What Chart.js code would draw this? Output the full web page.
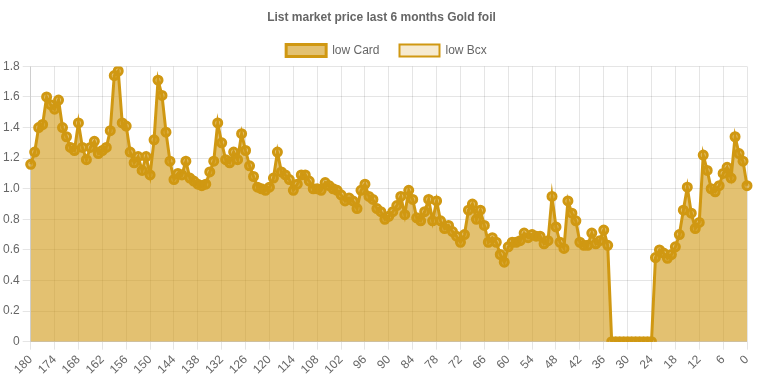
<!DOCTYPE html>
<html>
<head>
<meta charset="utf-8">
<script src="https://cdn.jsdelivr.net/npm/chart.js@4/dist/chart.umd.min.js"></script>
<style>
  html, body { margin: 0; padding: 0; background: #fff; }
  #wrap { width: 761px; height: 380px; }
</style>
</head>
<body>
<div id="wrap"><canvas id="c" width="761" height="380"></canvas></div>
<script>
const days = [];
for (let d = 180; d >= 0; d--) days.push(String(d));

const lowCard = [
  1.16, 1.24, 1.40, 1.42, 1.60, 1.55, 1.52, 1.58, 1.40, 1.34,
  1.27, 1.25, 1.43, 1.27, 1.19, 1.27, 1.31, 1.23, 1.25, 1.27,
  1.38, 1.74, 1.77, 1.43, 1.41, 1.24, 1.17, 1.21, 1.12, 1.21,
  1.09, 1.32, 1.71, 1.61, 1.37, 1.18, 1.06, 1.10, 1.09, 1.18,
  1.07, 1.05, 1.03, 1.02, 1.03, 1.11, 1.18, 1.43, 1.30, 1.19,
  1.17, 1.24, 1.19, 1.36, 1.25, 1.15, 1.08, 1.01, 1.00, 0.99,
  1.01, 1.07, 1.24, 1.11, 1.09, 1.06, 0.99, 1.03, 1.09, 1.09,
  1.05, 1.00, 1.00, 0.99, 1.04, 1.02, 1.00, 0.99, 0.96, 0.92,
  0.94, 0.92, 0.87, 0.99, 1.03, 0.95, 0.93, 0.87, 0.85, 0.80,
  0.82, 0.85, 0.89, 0.95, 0.83, 0.99, 0.93, 0.81, 0.79, 0.85,
  0.93, 0.79, 0.92, 0.79, 0.74, 0.76, 0.72, 0.69, 0.65, 0.70,
  0.86, 0.90, 0.80, 0.86, 0.76, 0.65, 0.68, 0.65, 0.57, 0.52,
  0.62, 0.65, 0.65, 0.66, 0.71, 0.68, 0.70, 0.69, 0.69, 0.64,
  0.66, 0.95, 0.75, 0.65, 0.61, 0.92, 0.84, 0.79, 0.65, 0.63,
  0.63, 0.71, 0.64, 0.66, 0.73, 0.63, 0, 0, 0, 0,
  0, 0, 0, 0, 0, 0, 0, 0.55, 0.60, 0.58,
  0.545, 0.57, 0.62, 0.70, 0.86, 1.01, 0.84, 0.74, 0.78, 1.22,
  1.12, 1.00, 0.98, 1.02, 1.10, 1.14, 1.07, 1.34, 1.23, 1.18,
  1.02
];
const lowBcx = [];

const yTicks = [0, 0.2, 0.4, 0.6, 0.8, 1.0, 1.2, 1.4, 1.6, 1.8];

const lineColor = 'rgb(208,152,18)';
const fillColor = 'rgba(208,152,18,0.6)';
const fillColor2 = 'rgba(208,152,18,0.2)';
const fontFamily = 'Arial, "Liberation Sans", sans-serif';

// shift title/legend so they are centred on the full canvas, as in the reference
const centerBlocks = {
  id: 'centerBlocks',
  afterLayout(chart) {
    const t = chart.titleBlock;
    if (t) { t.left += 8; t.right += 8; }
    const l = chart.legend;
    if (l) { l.left += 13; l.right += 13; }
  }
};

new Chart(document.getElementById('c'), {
  type: 'line',
  data: {
    labels: days,
    datasets: [
      {
        label: 'low Card',
        data: lowCard,
        borderColor: lineColor,
        backgroundColor: fillColor,
        fill: true,
        borderWidth: 3,
        pointRadius: 4,
        pointBorderWidth: 3,
        pointBackgroundColor: fillColor,
        pointBorderColor: lineColor,
        tension: 0
      },
      {
        label: 'low Bcx',
        data: lowBcx,
        borderColor: lineColor,
        backgroundColor: fillColor2,
        fill: true,
        borderWidth: 2,
        pointRadius: 4,
        tension: 0
      }
    ]
  },
  plugins: [centerBlocks],
  options: {
    responsive: false,
    animation: false,
    layout: { padding: { left: 0, right: 14, top: 0, bottom: 0 } },
    plugins: {
      title: {
        display: true,
        text: 'List market price last 6 months Gold foil',
        color: '#666',
        font: { size: 12, weight: 'bold', family: fontFamily },
        padding: { top: 10, bottom: 0 }
      },
      legend: {
        labels: {
          color: '#666',
          boxWidth: 40,
          boxHeight: 12,
          padding: 20,
          font: { size: 12, family: fontFamily }
        }
      },
      tooltip: { enabled: false }
    },
    scales: {
      x: {
        type: 'category',
        grid: { color: 'rgba(0,0,0,0.1)' },
        ticks: {
          autoSkip: false,
          maxRotation: 45,
          minRotation: 45,
          color: '#666',
          font: { size: 12, family: fontFamily },
          callback: function (v, i) { return i % 6 === 0 ? days[i] : null; }
        }
      },
      y: {
        min: 0,
        max: 1.8,
        grid: { color: 'rgba(0,0,0,0.1)' },
        afterBuildTicks: function (axis) { axis.ticks = yTicks.map(v => ({ value: v })); },
        ticks: {
          color: '#666',
          font: { size: 12, family: fontFamily },
          callback: function (v) { return Number(v.toFixed(1)) === 0 ? '0' : v.toFixed(1); }
        }
      }
    }
  }
});
</script>
</body>
</html>
